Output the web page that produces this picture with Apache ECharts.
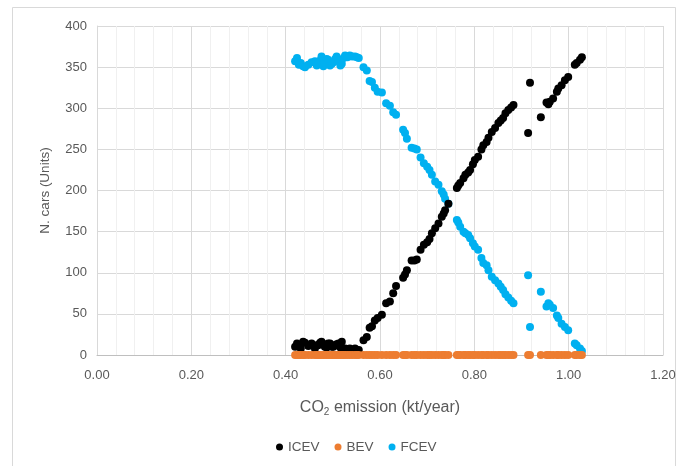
<!DOCTYPE html>
<html>
<head>
<meta charset="utf-8">
<script src="https://cdn.jsdelivr.net/npm/echarts@6/dist/echarts.min.js"></script>
<style>html,body{margin:0;padding:0;background:#fff;}#c{width:679px;height:466px;}</style>
</head>
<body>
<div id="c"></div>
<script>
// CO2 emission (kt/year) for each scenario point
const xVals = [0.420,0.424,0.428,0.432,0.437,0.441,0.448,0.455,0.462,0.466,0.469,0.473,0.476,0.480,0.483,0.487,0.490,0.494,0.498,0.501,0.505,0.508,0.512,0.516,0.519,0.523,0.526,0.531,0.536,0.541,0.547,0.551,0.555,0.565,0.572,0.578,0.583,0.589,0.595,0.604,0.613,0.621,0.628,0.634,0.649,0.653,0.657,0.667,0.673,0.678,0.686,0.693,0.700,0.705,0.710,0.717,0.724,0.731,0.735,0.738,0.745,0.763,0.766,0.770,0.777,0.781,0.787,0.791,0.797,0.801,0.808,0.815,0.819,0.826,0.830,0.837,0.844,0.851,0.856,0.861,0.866,0.872,0.878,0.883,0.914,0.918,0.941,0.953,0.957,0.960,0.967,0.975,0.978,0.985,0.992,0.999,1.013,1.017,1.024,1.028];
const icev = [10,14,12,8,16,15,11,14,8,12,12,15,16,13,10,9,14,14,10,10,12,13,14,9,16,7,8,7,8,6,8,6,6,18,22,33,35,42,45,49,63,65,75,84,94,98,103,115,115,116,128,134,137,141,148,154,160,168,172,176,184,203,206,209,215,219,222,225,232,237,241,250,255,259,264,271,276,282,285,288,294,298,301,304,270,331,289,307,305,308,312,320,324,328,334,338,353,355,359,362];
const bev = xVals.map(() => 0);
const fcev = [357,361,353,355,351,350,353,356,357,352,354,358,363,351,355,360,359,352,354,356,360,363,357,352,354,361,364,362,364,363,363,362,361,350,346,333,332,325,320,319,306,303,295,292,274,270,263,252,251,250,240,233,229,225,219,211,207,199,195,190,184,164,161,156,150,148,146,142,136,132,128,118,112,109,103,95,91,87,83,79,74,70,66,63,97,34,77,59,63,61,57,48,45,38,34,30,14,12,8,5];
const seriesNames = ['ICEV','BEV','FCEV'];
const seriesColors = ['#000000','#ED7D31','#00B0F0'];
const xTicks = {min:0, max:1.2, interval:0.2};
const yTicks = {min:0, max:400, interval:50};

const pairs = arr => xVals.map((x,i) => [x, arr[i]]);
const font = 'Liberation Sans';
const chart = echarts.init(document.getElementById('c'), null, {renderer:'canvas'});
chart.setOption({
  animation:false,
  backgroundColor:'#fff',
  textStyle:{fontFamily:font},
  graphic:[{type:'rect', shape:{x:12.5,y:7.5,width:663,height:480}, style:{fill:'none', stroke:'#d9d9d9', lineWidth:1}, z:-1}],
  grid:{left:97, right:16, top:26, bottom:111},
  legend:{
    data:seriesNames, top:435, left:271, icon:'circle', itemWidth:7, itemHeight:7, itemGap:15,
    textStyle:{color:'#595959', fontSize:13.5, fontFamily:font}
  },
  xAxis:{
    type:'value', min:xTicks.min, max:xTicks.max, interval:xTicks.interval,
    name:'CO{sub|2} emission (kt/year)', nameLocation:'middle', nameGap:43,
    nameTextStyle:{color:'#595959', fontSize:16, fontFamily:font, rich:{sub:{fontSize:10, verticalAlign:'bottom', padding:[9,0,0,0], color:'#595959', fontFamily:font}}},
    axisLine:{show:true, lineStyle:{color:'#bfbfbf'}},
    axisTick:{show:false},
    axisLabel:{color:'#595959', fontSize:13, margin:14, formatter:v=>v.toFixed(2)},
    splitLine:{show:true, lineStyle:{color:'#d9d9d9'}},
    minorTick:{show:false, splitNumber:5},
    minorSplitLine:{show:true, lineStyle:{color:'#f0f0f0'}}
  },
  yAxis:{
    type:'value', min:yTicks.min, max:yTicks.max, interval:yTicks.interval,
    name:'N. cars (Units)', nameLocation:'middle', nameGap:45, nameRotate:90,
    nameTextStyle:{color:'#595959', fontSize:13.5, fontFamily:font},
    axisLine:{show:true, lineStyle:{color:'#d9d9d9'}},
    axisTick:{show:false},
    axisLabel:{color:'#595959', fontSize:13, margin:10},
    splitLine:{show:true, lineStyle:{color:'#d9d9d9'}}
  },
  series:[
    {name:'ICEV', type:'scatter', data:pairs(icev), symbolSize:8, itemStyle:{color:seriesColors[0], opacity:1}, z:3},
    {name:'BEV', type:'scatter', data:pairs(bev), symbolSize:8, itemStyle:{color:seriesColors[1], opacity:1}, z:4},
    {name:'FCEV', type:'scatter', data:pairs(fcev), symbolSize:8, itemStyle:{color:seriesColors[2], opacity:1}, z:2}
  ]
});
</script>
</body>
</html>
